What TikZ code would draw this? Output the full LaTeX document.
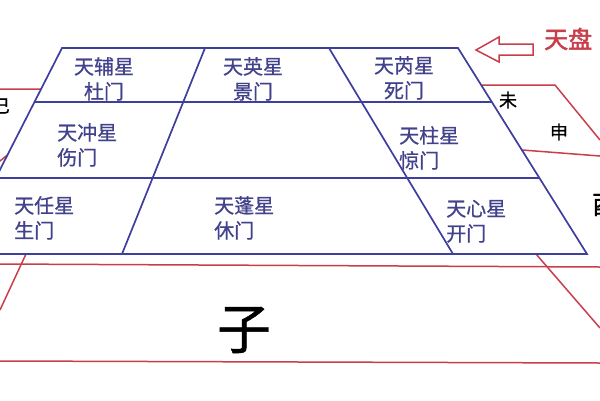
\documentclass[tikz,border=0pt]{standalone}
\usepackage{fontspec}
\setmainfont{Noto Sans CJK SC}
\newfontfamily\cjkbold[FakeBold=2]{Noto Sans CJK SC}
\newfontfamily\cjkmid[FakeBold=0.8]{Noto Sans CJK SC}
\usetikzlibrary{calc}
\definecolor{gridblue}{RGB}{62,62,158}
\definecolor{starblue}{RGB}{66,66,140}
\definecolor{earthred}{RGB}{200,62,74}

\begin{document}
\begin{tikzpicture}[x=1pt, y=-1pt,
      grid/.style={draw=gridblue, line width=1.7pt},
      earth/.style={draw=earthred, line width=1.5pt},
      star/.style={text=starblue, font=\fontsize{20}{25}\selectfont\cjkmid, inner sep=0pt},
      branch/.style={font=\fontsize{18}{18}\selectfont\cjkmid, inner sep=0pt}]

      \useasboundingbox (0,0) rectangle (600,400);
      \clip (0,0) rectangle (600,400);

      % Corners of the heaven plate
      \coordinate (tl) at (62,48);
      \coordinate (tr) at (458,48);
      \coordinate (bl) at (-43,254);
      \coordinate (br) at (587,254);
      \coordinate (d1t) at (205,48);
      \coordinate (d1b) at (122,254);
      \coordinate (d2t) at (329,48);
      \coordinate (d2b) at (453,254);

      % Earth plate
      \draw[earth] (0,264) -- (600,267);
      \draw[earth] (0,361) -- (600,363);
      \draw[earth] (26,254) -- (0,310);
      \draw[earth] (536,254) -- (600,328);
      \draw[earth] ($(tr)!0.18!(br)$) -- (555,85) -- (600,140);
      \draw[earth] ($(tr)!0.495!(br)$) -- (600,156);
      \draw[earth] (0,89) -- ($(tl)!0.199!(bl)$);
      \draw[earth] ($(tl)!0.519!(bl)$) -- (0,161);

      % Heaven plate
      \draw[grid] (tl) -- (tr) -- (br) -- (bl) -- cycle;
      \foreach \t in {0.262, 0.631} {
        \draw[grid] ($(tl)!\t!(bl)$) -- ($(tr)!\t!(br)$);
      }
      \draw[grid] (d1t) -- (d1b);
      \draw[grid] (d2t) -- (d2b);

      % Stars and doors (base = second line)
      \node[star, align=center, anchor=base] (fu) at (104,99) {天辅星\\杜门};
      \node[star, align=center, anchor=base] (ying) at (253,99) {天英星\\景门};
      \node[star, align=center, anchor=base] (rui) at (404,98) {天芮星\\死门};
      \node[star, align=left, anchor=base west] (chong) at (57,165) {天冲星\\伤门};
      \node[star, align=left, anchor=base west] (zhu) at (399,168) {天柱星\\惊门};
      \node[star, align=left, anchor=base west] (ren) at (14,238) {天任星\\生门};
      \node[star, align=left, anchor=base west] (peng) at (214,238) {天蓬星\\休门};
      \node[star, align=left, anchor=base west] (xin) at (446,241) {天心星\\开门};

      % Branches
      \node[branch] (wei) at (508,100) {未};
      \node[branch] (shen) at (559,132) {申};
      \node[branch] (si) at (1,106) {巳};
      \node[branch, font=\fontsize{26}{26}\selectfont\cjkmid] (you) at (605,205) {酉};
      \node[branch, font=\fontsize{54}{54}\selectfont\cjkmid] (zi) at (244,330) {子};

      % Pointer to the heaven plate
      \draw[earth] (476,50) -- (499,37) -- (499,44) -- (533,44) -- (533,55)
        -- (499,55) -- (499,62) -- cycle;
      \node[text=earthred, font=\fontsize{24}{24}\selectfont\cjkbold, inner sep=0pt,
        anchor=west] (tianpan) at (544,39) {天盘};
    \end{tikzpicture}
\end{document}
